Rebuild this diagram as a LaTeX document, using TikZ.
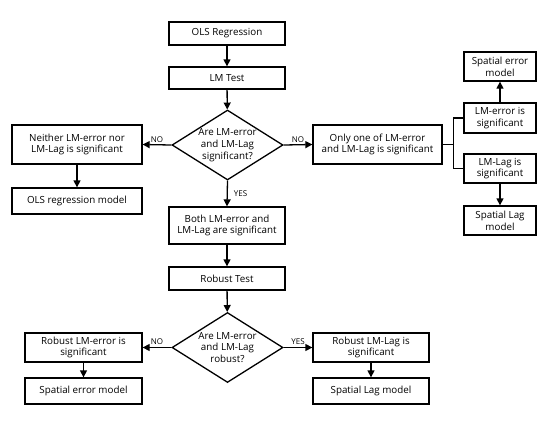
\documentclass[tikz,border=0pt]{standalone}
\usepackage{fontspec}
\setmainfont{Open Sans}
\usetikzlibrary{shapes.geometric,arrows.meta}

\tikzset{
  box/.style={draw, line width=1.3pt, rectangle, inner sep=0pt, align=center,
    font=\fontsize{9.8}{11.8}\selectfont},
  decision/.style={draw, line width=1.3pt, diamond, aspect=1.58, inner sep=0pt,
    minimum width=111, minimum height=70, align=center,
    font=\fontsize{9.8}{11.8}\selectfont},
  flow/.style={line width=1.3pt, -{Triangle[length=7pt,width=7pt]}},
  link/.style={line width=1.3pt},
  lbl/.style={font=\fontsize{8}{9}\selectfont, inner sep=2pt}
}

\begin{document}
\begin{tikzpicture}[x=1pt,y=-1pt]
\useasboundingbox (0,0) rectangle (550,421);

\node[box, minimum width=116, minimum height=23] (ols) at (227,33.5) {OLS Regression};
\node[box, minimum width=116, minimum height=22] (lmtest) at (227,78) {LM Test};
\node[decision] (test1) at (227.5,145) {Are LM-error\\and LM-Lag\\significant?};
\node[box, minimum width=130, minimum height=39] (neither) at (77,144.5) {Neither LM-error nor\\LM-Lag is significant};
\node[box, minimum width=130, minimum height=26] (olsmodel) at (77,201) {OLS regression model};
\node[box, minimum width=129, minimum height=39] (onlyone) at (377.5,144.5) {Only one of LM-error\\and LM-Lag is significant};
\node[box, minimum width=72, minimum height=30] (lmerr) at (500,118) {LM-error is\\significant};
\node[box, minimum width=72, minimum height=29] (spaterr) at (500,66.5) {Spatial error\\model};
\node[box, minimum width=72, minimum height=29] (lmlag) at (500,168.5) {LM-Lag is\\significant};
\node[box, minimum width=72, minimum height=29] (spatlag) at (500,220.5) {Spatial Lag\\model};
\node[box, minimum width=116, minimum height=37] (both) at (227,225.5) {Both LM-error and\\LM-Lag are significant};
\node[box, minimum width=116, minimum height=23] (robust) at (227,278.5) {Robust Test};
\node[decision] (test2) at (227.5,347.5) {Are LM-error\\and LM-Lag\\robust?};
\node[box, minimum width=117, minimum height=29] (rerr) at (83.5,347.5) {Robust LM-error is\\significant};
\node[box, minimum width=117, minimum height=26] (sem) at (83.5,391) {Spatial error model};
\node[box, minimum width=116, minimum height=29] (rlag) at (371,347.5) {Robust LM-Lag is\\significant};
\node[box, minimum width=116, minimum height=26] (slm) at (371,391) {Spatial Lag model};

\draw[flow] (ols) -- (lmtest);
\draw[flow] (lmtest) -- (test1);
\draw[flow] (test1.west) -- node[lbl, above] {NO} (neither.east);
\draw[flow] (test1.east) -- node[lbl, above] {NO} (onlyone.west);
\draw[flow] (test1.south) -- node[lbl, right=4pt] {YES} (both.north);
\draw[flow] (neither) -- (olsmodel);
\draw[link] (onlyone.east) -- ++(11,0) |- (lmerr.west);
\draw[link] (onlyone.east) -- ++(11,0) |- (lmlag.west);
\draw[flow] (lmerr) -- (spaterr);
\draw[flow] (lmlag) -- (spatlag);
\draw[flow] (both) -- (robust);
\draw[flow] (robust) -- (test2);
\draw[flow] (test2.west) -- node[lbl, above] {NO} (rerr.east);
\draw[flow] (test2.east) -- node[lbl, above] {YES} (rlag.west);
\draw[flow] (rerr) -- (sem);
\draw[flow] (rlag) -- (slm);
\end{tikzpicture}
\end{document}
